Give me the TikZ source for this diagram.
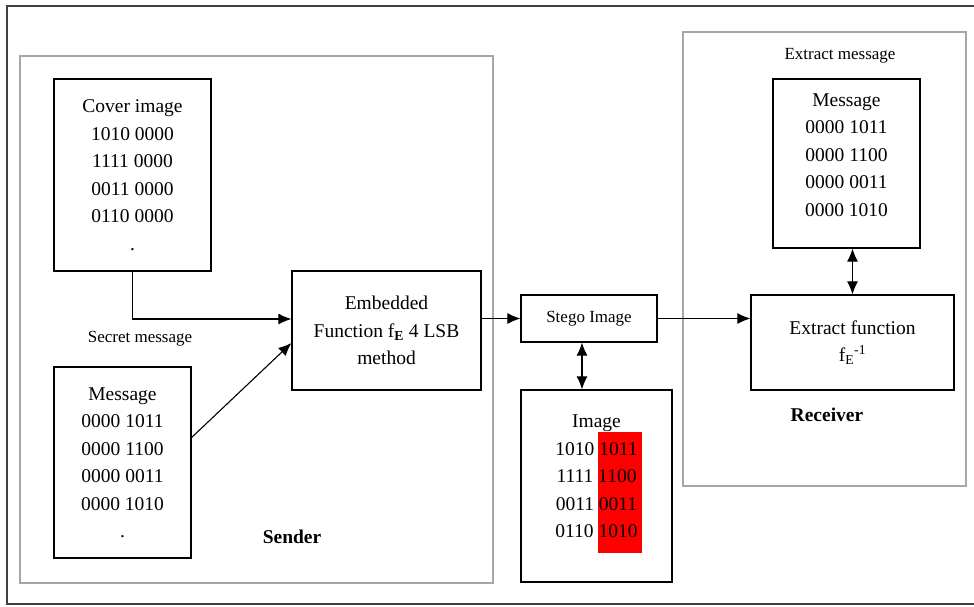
\documentclass[tikz,border=0pt]{standalone}
\usepackage{fontspec}
\setmainfont{Liberation Serif}
\usetikzlibrary{arrows.meta}

\begin{document}
\begin{tikzpicture}[x=1pt, y=-1pt, >={Latex[length=13pt,width=11pt]},
  box/.style={draw, line width=1.2pt, align=center, inner sep=0pt, font=\fontsize{19.5}{27.5}\selectfont},
  area/.style={draw=gray!70, line width=1.2pt},
  tag/.style={font=\fontsize{17}{20}\selectfont},
  side/.style={font=\fontsize{19.5}{22}\selectfont\bfseries},
  link/.style={line width=1.1pt}]

\useasboundingbox (0,0) rectangle (974,606);

% Draw outer frame (open on the right)
\draw [line width=1.2pt, black!75] (974,6) -- (7,6) -- (7,604) -- (974,604);

% Draw sender and receiver areas
\draw [area] (20,56) rectangle (493,583);
\draw [area] (683,32) rectangle (966,486);

% Sender side
\node [box, minimum width=157, minimum height=192] (cover) at (132.5,175)
  {Cover image\\1010 0000\\1111 0000\\0011 0000\\0110 0000\\.};
\node [box, minimum width=137, minimum height=191] (msgin) at (122.5,462.5)
  {Message\\0000 1011\\0000 1100\\0000 0011\\0000 1010\\.};
\node [box, minimum width=189, minimum height=119] (embed) at (386.5,330.5)
  {Embedded\\Function f\textsubscript{\textbf{E}} 4 LSB\\method};
\node [tag] (secret) at (140,339) {Secret message};
\node [side] (sender) at (292,537) {Sender};

% Stego image and its bits
\node [box, tag, minimum width=136, minimum height=47] (stego) at (589,318.5) {Stego Image};
\fill [red] (598,432) rectangle (642,553);
\node [box, minimum width=151, minimum height=192] (image) at (596.5,486)
  {Image\\1010~1011\\1111~1100\\0011~0011\\0110~1010\\[-8pt]\mbox{}};

% Receiver side
\node [tag] (extractmsg) at (840,56) {Extract message};
\node [box, minimum width=147, minimum height=169] (msgout) at (846.5,163.5)
  {Message\\0000 1011\\0000 1100\\0000 0011\\0000 1010\\[-10pt]\mbox{}};
\node [box, minimum width=203, minimum height=95] (extract) at (852.5,342.5)
  {Extract function\\f\textsubscript{E}\textsuperscript{-1}};
\node [side] (receiver) at (827,415) {Receiver};

% Draw the connectors
\draw [link, ->] (cover.south) |- ([yshift=11.5pt]embed.west);
\draw [link, ->] ([yshift=25pt]msgin.east) -- ([yshift=-12.5pt]embed.west);
\draw [link, ->] (stego.west -| embed.east) -- (stego.west);
\draw [link, ->] (stego.east) -- (stego.east -| extract.west);
\draw [link, <->] ([xshift=-7pt]stego.south) -- ([xshift=-7pt]stego.south |- image.north);
\draw [link, <->] (extract.north) -- (extract.north |- msgout.south);

\end{tikzpicture}
\end{document}
